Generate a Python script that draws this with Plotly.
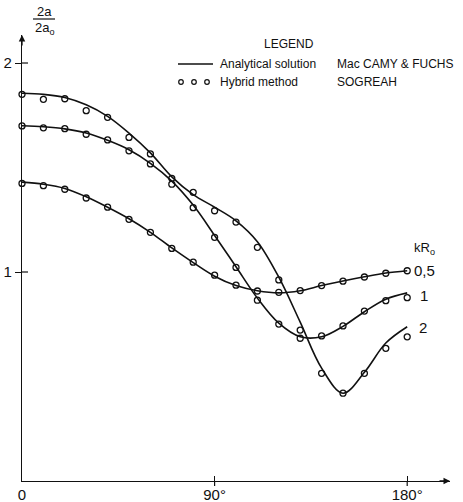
import plotly.graph_objects as go

# ---- data ----
angle_deg = [0, 10, 20, 30, 40, 50, 60, 70, 80, 90, 100, 110, 120, 130, 140, 150, 160, 170, 180]

# analytical solution (MacCamy & Fuchs)
analytic_kr05 = [1.43, 1.42, 1.40, 1.36, 1.31, 1.255, 1.19, 1.115, 1.045, 0.98, 0.935, 0.91, 0.90, 0.91, 0.935, 0.957, 0.977, 0.995, 1.006]
analytic_kr1 = [1.70, 1.695, 1.685, 1.665, 1.63, 1.585, 1.52, 1.435, 1.32, 1.175, 1.025, 0.875, 0.755, 0.69, 0.69, 0.74, 0.81, 0.87, 0.90]
analytic_kr2 = [1.855, 1.85, 1.835, 1.80, 1.745, 1.665, 1.57, 1.455, 1.37, 1.31, 1.245, 1.145, 0.975, 0.76, 0.54, 0.42, 0.52, 0.66, 0.738]

# hybrid method (SOGREAH) points
hybrid_kr05 = [1.424, 1.413, 1.396, 1.354, 1.31, 1.252, 1.19, 1.113, 1.047, 0.985, 0.937, 0.909, 0.903, 0.911, 0.935, 0.956, 0.976, 0.994, 1.006]
hybrid_kr1 = [1.699, 1.69, 1.686, 1.659, 1.632, 1.58, 1.517, 1.42, 1.308, 1.166, 1.022, 0.865, 0.751, 0.683, 0.694, 0.742, 0.813, 0.863, 0.877]
hybrid_kr2 = [1.85, 1.826, 1.829, 1.772, 1.74, 1.644, 1.565, 1.448, 1.381, 1.293, 1.239, 1.118, 0.962, 0.722, 0.515, 0.42, 0.515, 0.635, 0.69]

curve_labels = ["0,5", "1", "2"]
x_tickvals = [0, 90, 180]
x_ticktext = ["0", "90°", "180°"]
y_tickvals = [1, 2]
y_ticktext = ["1", "2"]

W, H = 463, 502
ML, MR, MT, MB = 22, 13, 35, 21
PW, PH = W - ML - MR, H - MT - MB
X_RANGE = [0, 200.0]
Y_RANGE = [0, 2.134]

FONT = "Liberation Sans"
INK = "#111111"


def px(x, y):
    """pixel -> paper coords"""
    return (x - ML) / PW, (H - MB - y) / PH


fig = go.Figure()

analytic = [analytic_kr05, analytic_kr1, analytic_kr2]
hybrid = [hybrid_kr05, hybrid_kr1, hybrid_kr2]

for a in analytic:
    fig.add_trace(go.Scatter(x=angle_deg, y=a, mode="lines",
                             line=dict(color=INK, width=1.6, shape="spline", smoothing=1.0),
                             showlegend=False, hoverinfo="skip"))
for h in hybrid:
    fig.add_trace(go.Scatter(x=angle_deg, y=h, mode="markers",
                             marker=dict(symbol="circle-open", size=6, color=INK, line=dict(width=1.3)),
                             showlegend=False, cliponaxis=False))

annotations = []
shapes = []

# curve labels at the right end
label_pos = [(412, 270), (418, 295), (417, 327)]
for text, (lx, ly) in zip(curve_labels, label_pos):
    xp, yp = px(lx, ly)
    annotations.append(dict(x=xp, y=yp, xref="paper", yref="paper", text=text, showarrow=False,
                            xanchor="left", yanchor="middle", font=dict(family=FONT, size=15, color=INK)))
xp, yp = px(412, 248)
annotations.append(dict(x=xp, y=yp, xref="paper", yref="paper", text="kR<sub>o</sub>", showarrow=False,
                        xanchor="left", yanchor="middle", font=dict(family=FONT, size=13, color=INK)))

# legend block
xp, yp = px(289, 44)
annotations.append(dict(x=xp, y=yp, xref="paper", yref="paper", text="LEGEND", showarrow=False,
                        xanchor="center", yanchor="middle", font=dict(family=FONT, size=12, color=INK)))
for txt, (lx, ly) in [("Analytical solution", (218, 64)), ("Mac CAMY &amp; FUCHS", (335, 64)),
                      ("Hybrid method", (218, 82)), ("SOGREAH", (335, 82))]:
    xp, yp = px(lx, ly)
    annotations.append(dict(x=xp, y=yp, xref="paper", yref="paper", text=txt, showarrow=False,
                            xanchor="left", yanchor="middle", font=dict(family=FONT, size=12, color=INK)))
x0, y0 = px(178, 64)
x1, _ = px(213, 64)
shapes.append(dict(type="line", xref="paper", yref="paper", x0=x0, x1=x1, y0=y0, y1=y0,
                   line=dict(color=INK, width=1.3)))
for cx in (181, 194, 207):
    a0, b0 = px(cx - 2.3, 82 + 2.3)
    a1, b1 = px(cx + 2.3, 82 - 2.3)
    shapes.append(dict(type="circle", xref="paper", yref="paper", x0=a0, x1=a1, y0=b0, y1=b1,
                       line=dict(color=INK, width=1.2)))

# y-axis title 2a / 2a0
xp, yp = px(44, 11)
annotations.append(dict(x=xp, y=yp, xref="paper", yref="paper", text="2a", showarrow=False,
                        xanchor="center", yanchor="middle", font=dict(family=FONT, size=13, color=INK)))
xp, yp = px(45, 28)
annotations.append(dict(x=xp, y=yp, xref="paper", yref="paper", text="2a<sub>o</sub>", showarrow=False,
                        xanchor="center", yanchor="middle", font=dict(family=FONT, size=13, color=INK)))
a0, b0 = px(33, 19)
a1, _ = px(55, 19)
shapes.append(dict(type="line", xref="paper", yref="paper", x0=a0, x1=a1, y0=b0, y1=b0,
                   line=dict(color=INK, width=1.2)))

# other half of the crossing ticks
for v in x_tickvals[1:]:
    shapes.append(dict(type="line", xref="x", yref="paper", x0=v, x1=v, y0=0, y1=-5 / PH,
                       line=dict(color=INK, width=1.2)))
for v in y_tickvals:
    shapes.append(dict(type="line", xref="paper", yref="y", x0=0, x1=6 / PW, y0=v, y1=v,
                       line=dict(color=INK, width=1.2)))

# axis arrows
annotations.append(dict(x=1.0, y=0, xref="paper", yref="paper", ax=-12, ay=0, text="", showarrow=True,
                        arrowhead=2, arrowsize=1, arrowwidth=1.3, arrowcolor=INK))
annotations.append(dict(x=0, y=1.0, xref="paper", yref="paper", ax=0, ay=12, text="", showarrow=True,
                        arrowhead=2, arrowsize=1, arrowwidth=1.3, arrowcolor=INK))

fig.update_layout(
    width=W, height=H, margin=dict(l=ML, r=MR, t=MT, b=MB, autoexpand=False),
    paper_bgcolor="white", plot_bgcolor="white",
    showlegend=False, annotations=annotations, shapes=shapes,
    font=dict(family=FONT, color=INK),
)
fig.update_xaxes(range=X_RANGE, automargin=False, showgrid=False, zeroline=False, showline=True,
                 linecolor=INK, linewidth=1.3,
                 tickvals=x_tickvals, ticktext=x_ticktext, ticks="inside", ticklen=5, tickcolor=INK,
                 tickwidth=1.2, tickfont=dict(family=FONT, size=15, color=INK))
fig.update_yaxes(range=Y_RANGE, automargin=False, showgrid=False, zeroline=False, showline=True,
                 linecolor=INK, linewidth=1.3,
                 tickvals=y_tickvals, ticktext=y_ticktext, ticks="outside", ticklen=6, tickcolor=INK,
                 tickwidth=1.2, tickfont=dict(family=FONT, size=15, color=INK))

fig.write_html("out.html")
